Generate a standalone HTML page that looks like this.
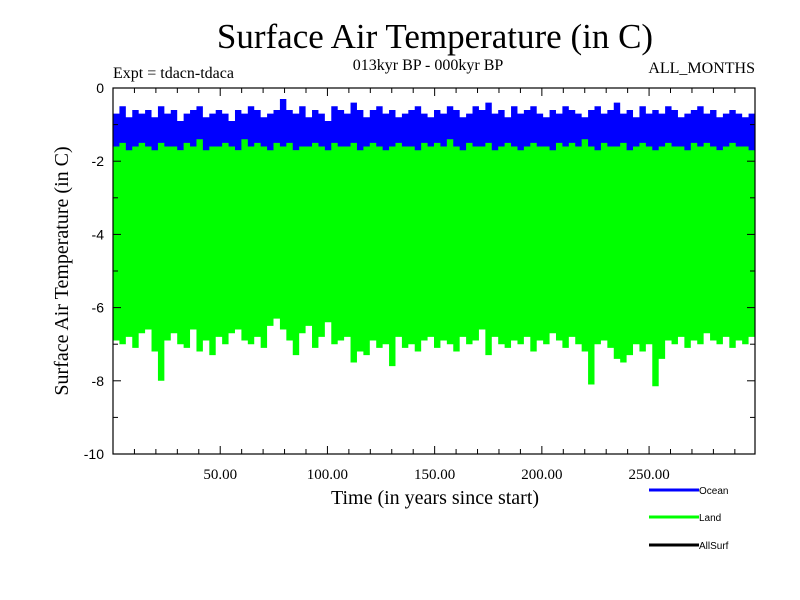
<!DOCTYPE html>
<html><head><meta charset="utf-8"><style>
body{margin:0;background:#fff}
svg{display:block}
.s{font-family:"Liberation Serif",serif}
.a{font-family:"Liberation Sans",sans-serif}
</style></head><body>
<svg id="c" width="800" height="600" xmlns="http://www.w3.org/2000/svg">
<text class="s" x="435" y="48" font-size="35" text-anchor="middle">Surface Air Temperature (in C)</text>
<text class="s" x="428" y="70" font-size="16" text-anchor="middle">013kyr BP - 000kyr BP</text>
<text class="s" x="113" y="78" font-size="16">Expt = tdacn-tdaca</text>
<text class="s" x="755" y="73" font-size="16" text-anchor="end">ALL_MONTHS</text>
<text class="s" transform="translate(68,271) rotate(-90)" font-size="20" text-anchor="middle">Surface Air Temperature (in C)</text>
<text class="s" x="435" y="504" font-size="20" text-anchor="middle">Time (in years since start)</text>
<g id="plot"></g>
<g id="axes"></g>
<g id="legend"></g>
</svg>
<script>
const oceanHi=[-0.7,-0.5,-0.8,-0.6,-0.7,-0.6,-0.8,-0.5,-0.7,-0.6,-0.9,-0.7,-0.6,-0.5,-0.8,-0.7,-0.6,-0.7,-0.9,-0.6,-0.7,-0.5,-0.6,-0.8,-0.7,-0.6,-0.3,-0.6,-0.7,-0.5,-0.8,-0.6,-0.7,-0.9,-0.5,-0.6,-0.7,-0.4,-0.6,-0.8,-0.6,-0.5,-0.7,-0.6,-0.8,-0.7,-0.6,-0.5,-0.7,-0.8,-0.6,-0.7,-0.5,-0.6,-0.8,-0.7,-0.5,-0.6,-0.4,-0.7,-0.6,-0.8,-0.5,-0.7,-0.6,-0.5,-0.7,-0.8,-0.6,-0.7,-0.5,-0.6,-0.7,-0.8,-0.6,-0.5,-0.7,-0.6,-0.4,-0.7,-0.6,-0.8,-0.5,-0.7,-0.6,-0.7,-0.5,-0.6,-0.8,-0.7,-0.6,-0.5,-0.7,-0.6,-0.8,-0.7,-0.6,-0.7,-0.8,-0.7];
const oceanLo=[-1.75,-1.7,-1.8,-1.75,-1.7,-1.8,-1.75,-1.7,-1.8,-1.75,-1.7,-1.8,-1.75,-1.7,-1.8,-1.75,-1.7,-1.8,-1.75,-1.7,-1.8,-1.75,-1.7,-1.8,-1.75,-1.7,-1.8,-1.75,-1.7,-1.8,-1.75,-1.7,-1.8,-1.75,-1.7,-1.8,-1.75,-1.7,-1.8,-1.75,-1.7,-1.8,-1.75,-1.7,-1.8,-1.75,-1.7,-1.8,-1.75,-1.7,-1.8,-1.75,-1.7,-1.8,-1.75,-1.7,-1.8,-1.75,-1.7,-1.8,-1.75,-1.7,-1.8,-1.75,-1.7,-1.8,-1.75,-1.7,-1.8,-1.75,-1.7,-1.8,-1.75,-1.7,-1.8,-1.75,-1.7,-1.8,-1.75,-1.7,-1.8,-1.75,-1.7,-1.8,-1.75,-1.7,-1.8,-1.75,-1.7,-1.8,-1.75,-1.7,-1.8,-1.75,-1.7,-1.8,-1.75,-1.7,-1.8,-1.75];
const allSurfLo=[-1.7,-1.7,-1.9,-1.7,-1.7,-1.7,-1.95,-1.7,-1.7,-1.9,-1.7,-1.7,-1.7,-1.9,-1.7,-1.7,-1.7,-1.7,-1.9,-1.7,-1.7,-1.7,-1.95,-1.7,-1.7,-1.7,-1.9,-1.7,-1.7,-1.7,-1.7,-1.9,-1.7,-1.7,-1.7,-1.9,-1.7,-1.7,-1.7,-1.7,-1.95,-1.7,-1.7,-1.9,-1.7,-1.7,-1.7,-1.7,-1.9,-1.7,-1.7,-1.7,-1.9,-1.7,-1.7,-1.7,-1.7,-1.95,-1.7,-1.7,-1.9,-1.7,-1.7,-1.7,-1.7,-1.9,-1.7,-1.7,-1.7,-1.9,-1.7,-1.7,-1.7,-1.95,-1.7,-1.7,-1.9,-1.7,-1.7,-1.7,-1.7,-1.9,-1.7,-1.7,-1.7,-1.9,-1.7,-1.7,-1.7,-1.7,-1.95,-1.7,-1.7,-1.9,-1.7,-1.7,-1.7,-1.9,-1.7,-1.7];
const landHi=[-1.6,-1.5,-1.7,-1.6,-1.5,-1.6,-1.7,-1.5,-1.6,-1.6,-1.7,-1.5,-1.6,-1.4,-1.7,-1.6,-1.6,-1.5,-1.6,-1.7,-1.4,-1.6,-1.5,-1.6,-1.7,-1.5,-1.6,-1.5,-1.7,-1.6,-1.6,-1.5,-1.6,-1.7,-1.5,-1.6,-1.6,-1.5,-1.7,-1.6,-1.5,-1.6,-1.7,-1.6,-1.5,-1.6,-1.6,-1.7,-1.5,-1.6,-1.5,-1.6,-1.4,-1.6,-1.7,-1.5,-1.6,-1.6,-1.5,-1.7,-1.6,-1.5,-1.6,-1.7,-1.6,-1.5,-1.6,-1.6,-1.7,-1.5,-1.6,-1.5,-1.6,-1.4,-1.6,-1.7,-1.5,-1.6,-1.6,-1.5,-1.7,-1.6,-1.5,-1.6,-1.7,-1.6,-1.5,-1.6,-1.6,-1.7,-1.5,-1.6,-1.5,-1.6,-1.7,-1.6,-1.5,-1.6,-1.6,-1.7];
const landLo=[-6.9,-7.0,-6.8,-7.1,-6.7,-6.6,-7.2,-8.0,-6.9,-6.7,-7.0,-7.1,-6.6,-7.2,-6.9,-7.3,-6.8,-7.0,-6.7,-6.6,-6.9,-7.0,-6.8,-7.1,-6.5,-6.3,-6.6,-6.9,-7.3,-6.7,-6.5,-7.1,-6.8,-6.4,-7.0,-6.9,-6.8,-7.5,-7.2,-7.3,-6.9,-7.1,-7.0,-7.6,-6.8,-7.1,-7.0,-7.2,-6.9,-6.8,-7.1,-6.9,-7.0,-7.2,-6.8,-7.0,-6.9,-6.6,-7.3,-6.8,-7.0,-7.1,-6.9,-7.0,-6.8,-7.2,-6.9,-7.0,-6.7,-6.9,-7.1,-6.8,-7.0,-7.2,-8.1,-7.0,-6.9,-7.1,-7.4,-7.5,-7.3,-7.0,-7.2,-7.0,-8.15,-7.4,-6.9,-7.0,-6.8,-7.1,-6.9,-7.0,-6.7,-6.9,-7.0,-6.8,-7.1,-6.9,-7.0,-6.8];
const xTickLabels=["50.00","100.00","150.00","200.00","250.00"];
const yTickLabels=["0","-2","-4","-6","-8","-10"];
const X0=113,X1=755,Y0=88,Y1=454,YEARS=299.4;
const xs=v=>X0+(v/YEARS)*(X1-X0);
const ys=v=>Y0+(0-v)/10*(Y1-Y0);
const NS="http://www.w3.org/2000/svg";
function mk(t,a,p){const e=document.createElementNS(NS,t);for(const k in a)e.setAttribute(k,a[k]);p.appendChild(e);return e;}
const plot=document.getElementById('plot'),axes=document.getElementById('axes'),leg=document.getElementById('legend');
function band(hi,lo,col,name){
  const n=hi.length,step=YEARS/n;let up=[],dn=[];
  for(let i=0;i<n;i++){const a=xs(i*step),b=xs((i+1)*step);
    up.push(a+','+ys(hi[i]),b+','+ys(hi[i]));
    dn.unshift(b+','+ys(lo[i]),a+','+ys(lo[i]));}
  const p=mk('polygon',{points:up.concat(dn).join(' '),fill:col},plot);
  
  
}
const allHi=oceanHi.map(()=>-1.0);
band(allHi,allSurfLo,'#000000','allsurf-series');
band(oceanHi,oceanLo,'#0000ff','ocean-series');
band(landHi,landLo,'#00ff00','land-series');
const fr=mk('rect',{x:X0,y:Y0,width:X1-X0,height:Y1-Y0,fill:'none',stroke:'#000','stroke-width':1.2},axes);


for(let t=10;t<YEARS;t+=10){const x=xs(t),L=(t%50===0)?8:5;
  mk('line',{x1:x,x2:x,y1:Y1,y2:Y1-L,stroke:'#000'},axes);
  mk('line',{x1:x,x2:x,y1:Y0,y2:Y0+L,stroke:'#000'},axes);}
xTickLabels.forEach(s=>{const t=mk('text',{x:xs(parseFloat(s)),y:479,'font-size':15,'text-anchor':'middle','class':'s'},axes);t.textContent=s;
  
  });
for(let v=0;v>=-10;v-=1){const y=ys(v),L=(v%2===0)?8:5;
  mk('line',{x1:X0,x2:X0+L,y1:y,y2:y,stroke:'#000'},axes);
  mk('line',{x1:X1,x2:X1-L,y1:y,y2:y,stroke:'#000'},axes);}
yTickLabels.forEach(s=>{const t=mk('text',{x:104,y:ys(parseFloat(s))+5,'font-size':14,'text-anchor':'end','class':'a'},axes);t.textContent=s;
  
  });
[['Ocean','#0000ff',490],['Land','#00ff00',517],['AllSurf','#000',545]].forEach(d=>{
  const g=mk('g',{},leg);
  
  
  mk('line',{x1:649,x2:699,y1:d[2],y2:d[2],stroke:d[1],'stroke-width':3},g);
  const t=mk('text',{x:699,y:d[2]+4,'font-size':10,'class':'a'},g);t.textContent=d[0];
});
</script>
</body></html>
